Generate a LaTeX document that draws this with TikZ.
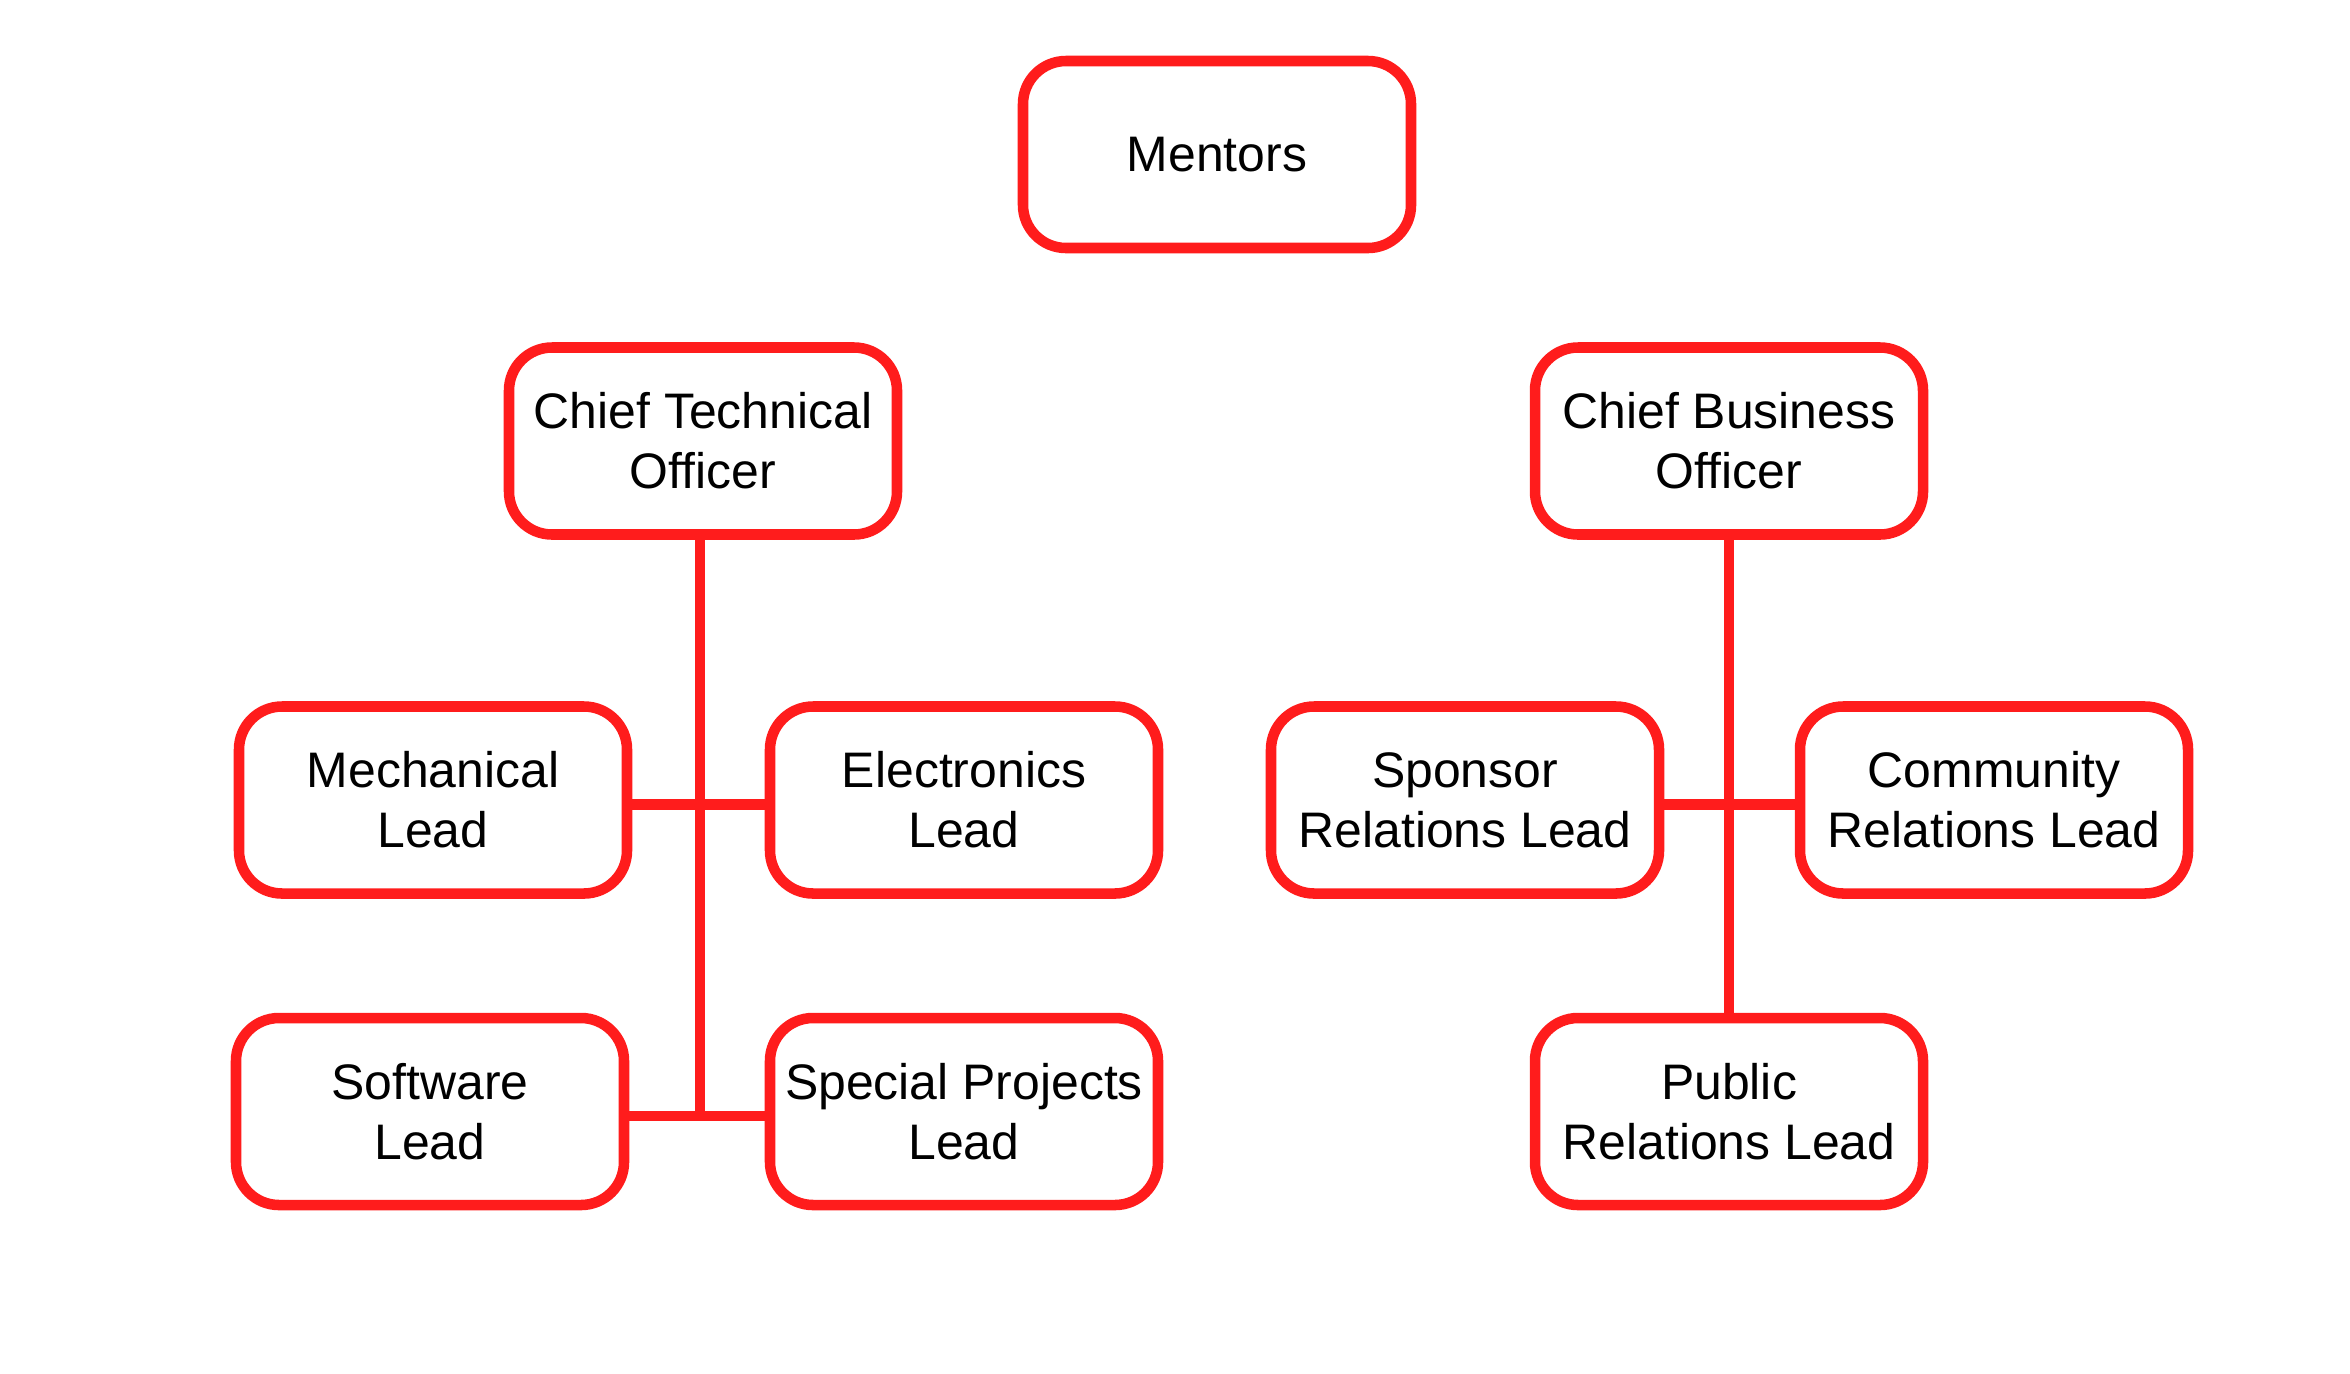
\documentclass[tikz,border=0pt]{standalone}
\usepackage{fontspec}
\setmainfont{Liberation Sans}
\usepackage{tikz}
\definecolor{boxred}{RGB}{255,28,28}

\begin{document}
\begin{tikzpicture}[role/.style={draw=boxred,line width=3pt,rounded corners=4.3mm,
                      minimum width=3.88cm,minimum height=1.87cm,inner sep=1mm,align=center,
                      font=\fontsize{14.2}{17}\selectfont},
                    link/.style={draw=boxred,line width=3pt}]
          \useasboundingbox (0,0) rectangle (23.5,-13.73);
          \node[role] (mentors) at (12.17,-1.545) {Mentors};
          \node[role] (cto) at (7.03,-4.41) {Chief Technical\\Officer};
          \node[role] (cbo) at (17.29,-4.41) {Chief Business\\Officer};
          \node[role] (mech) at (4.33,-8.0) {Mechanical\\Lead};
          \node[role] (elec) at (9.64,-8.0) {Electronics\\Lead};
          \node[role] (soft) at (4.30,-11.115) {Software\\Lead};
          \node[role] (spec) at (9.64,-11.115) {Special Projects\\Lead};
          \node[role] (spons) at (14.65,-8.0) {Sponsor\\Relations Lead};
          \node[role] (comm) at (19.94,-8.0) {Community\\Relations Lead};
          \node[role] (pub) at (17.29,-11.115) {Public\\Relations Lead};
          % technical side
          \draw[link] ([xshift=-0.3mm]cto.south) -- ([xshift=-0.3mm,yshift=-0.45mm]cto.south |- soft.east);
          \draw[link] ([yshift=-0.45mm]mech.east) -- ([yshift=-0.45mm]elec.west);
          \draw[link] ([yshift=-0.45mm]soft.east) -- ([yshift=-0.45mm]spec.west);
          % business side
          \draw[link] (cbo.south) -- (pub.north);
          \draw[link] ([yshift=-0.45mm]spons.east) -- ([yshift=-0.45mm]comm.west);
        \end{tikzpicture}
\end{document}
